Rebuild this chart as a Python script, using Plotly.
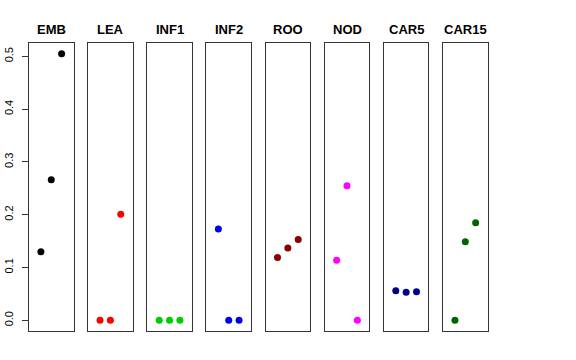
import plotly.graph_objects as go

panels = ["EMB", "LEA", "INF1", "INF2", "ROO", "NOD", "CAR5", "CAR15"]
colors = ["#000000", "#FF0000", "#00CD00", "#0000FF", "#8B0000", "#FF00FF", "#00008B", "#006400"]
x_pos = [1, 2, 3]
values = [
    [0.130, 0.266, 0.505],
    [0.0, 0.0, 0.201],
    [0.0, 0.0, 0.0],
    [0.173, 0.0, 0.0],
    [0.119, 0.137, 0.153],
    [0.114, 0.255, 0.0],
    [0.056, 0.053, 0.054],
    [0.0, 0.149, 0.185],
]
y_ticks = [0.0, 0.1, 0.2, 0.3, 0.4, 0.5]

W, H = 576, 360
left0, pw, pitch = 29.0, 44.5, 59.15
top_px, bot_px = 43.0, 331.0
title_px = 29.5

fig = go.Figure()
for i, (name, col, vals) in enumerate(zip(panels, colors, values)):
    ax = "" if i == 0 else str(i + 1)
    fig.add_trace(go.Scatter(
        x=x_pos, y=vals, mode="markers",
        marker=dict(color=col, size=7, line=dict(width=0)),
        xaxis="x" + ax, yaxis="y" + ax, showlegend=False, hoverinfo="skip",
    ))
    x0 = left0 + i * pitch
    x1 = x0 + pw
    fig.layout["xaxis" + ax] = dict(
        domain=[x0 / W, x1 / W], range=[-0.15, 4.15],
        showgrid=False, zeroline=False, showticklabels=False, ticks="",
        showline=True, mirror=True, linecolor="#333333", linewidth=1,
        anchor="y" + ax, fixedrange=True, automargin=False,
    )
    yd = dict(
        domain=[1 - bot_px / H, 1 - top_px / H], range=[-0.0202, 0.5252],
        showgrid=False, zeroline=False,
        showline=True, mirror=True, linecolor="#333333", linewidth=1,
        anchor="x" + ax, fixedrange=True, automargin=False,
    )
    if i == 0:
        yd.update(tickvals=y_ticks, ticktext=[f"{v:.1f}" for v in y_ticks],
                  ticks="outside", ticklen=6, tickcolor="#333333",
                  tickangle=-90, showticklabels=True, ticklabelstandoff=5,
                  tickfont=dict(family="Liberation Sans, Arial, sans-serif", size=11, color="#000000"))
    else:
        yd.update(showticklabels=False, ticks="")
    fig.layout["yaxis" + ax] = yd
    fig.add_annotation(
        x=(x0 + x1) / 2 / W, y=1 - title_px / H, xref="paper", yref="paper",
        text="<b>" + name + "</b>", showarrow=False,
        font=dict(family="Liberation Sans, Arial, sans-serif", size=13, color="#000000"),
        xanchor="center", yanchor="middle",
    )

fig.update_layout(
    width=W, height=H, margin=dict(l=0, r=0, t=0, b=0, autoexpand=False),
    paper_bgcolor="white", plot_bgcolor="white",
)
fig.write_html("out.html", config={"displayModeBar": False},
               post_script="document.body.style.margin='0';")
